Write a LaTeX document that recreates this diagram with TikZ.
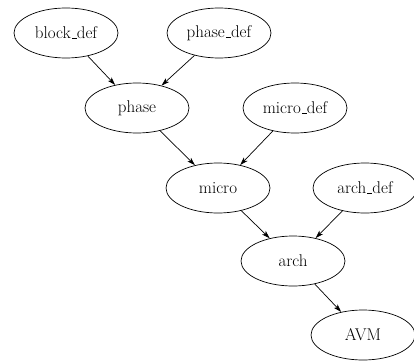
\documentclass[tikz,border=0pt]{standalone}
\usepackage{tikz}
\usetikzlibrary{shapes.geometric, arrows.meta, positioning}

\newcommand{\lowbar}{\leavevmode\kern.06em\vbox{\hrule width.3em height .5pt}}

\begin{document}
\begin{tikzpicture}[
    on grid,
    state/.style={ellipse, draw=black, line width=0.7pt, minimum width=104pt, minimum height=50pt, inner sep=0pt, align=center, font=\fontsize{17}{20}\selectfont},
    arrow/.style={-{Stealth[length=8pt, width=5pt, inset=2pt]}, line width=0.7pt, draw=black},
]
\useasboundingbox (0,0) rectangle (414pt,-361pt);

% Row 1: definitions
\node[state] (blockdef) at (66pt,-33pt) {block\lowbar def};
\node[state, right=153pt of blockdef] (phasedef) {phase\lowbar def};

% Row 2
\node[state, below right=75pt and 71pt of blockdef] (phase) {phase};
\node[state, right=158pt of phase] (microdef) {micro\lowbar def};

% Row 3
\node[state, below right=80pt and 81pt of phase] (micro) {micro};
\node[state, right=147pt of micro] (archdef) {arch\lowbar def};

% Row 4
\node[state, below right=73pt and 75pt of micro] (arch) {arch};

% Output
\node[state, below right=74pt and 70pt of arch] (avm) {AVM};

% Arrows
\draw[arrow] (blockdef) -- (phase);
\draw[arrow] (phasedef) -- (phase);
\draw[arrow] (phase) -- (micro);
\draw[arrow] (microdef) -- (micro);
\draw[arrow] (micro) -- (arch);
\draw[arrow] (archdef) -- (arch);
\draw[arrow] (arch) -- (avm);

\end{tikzpicture}
\end{document}
